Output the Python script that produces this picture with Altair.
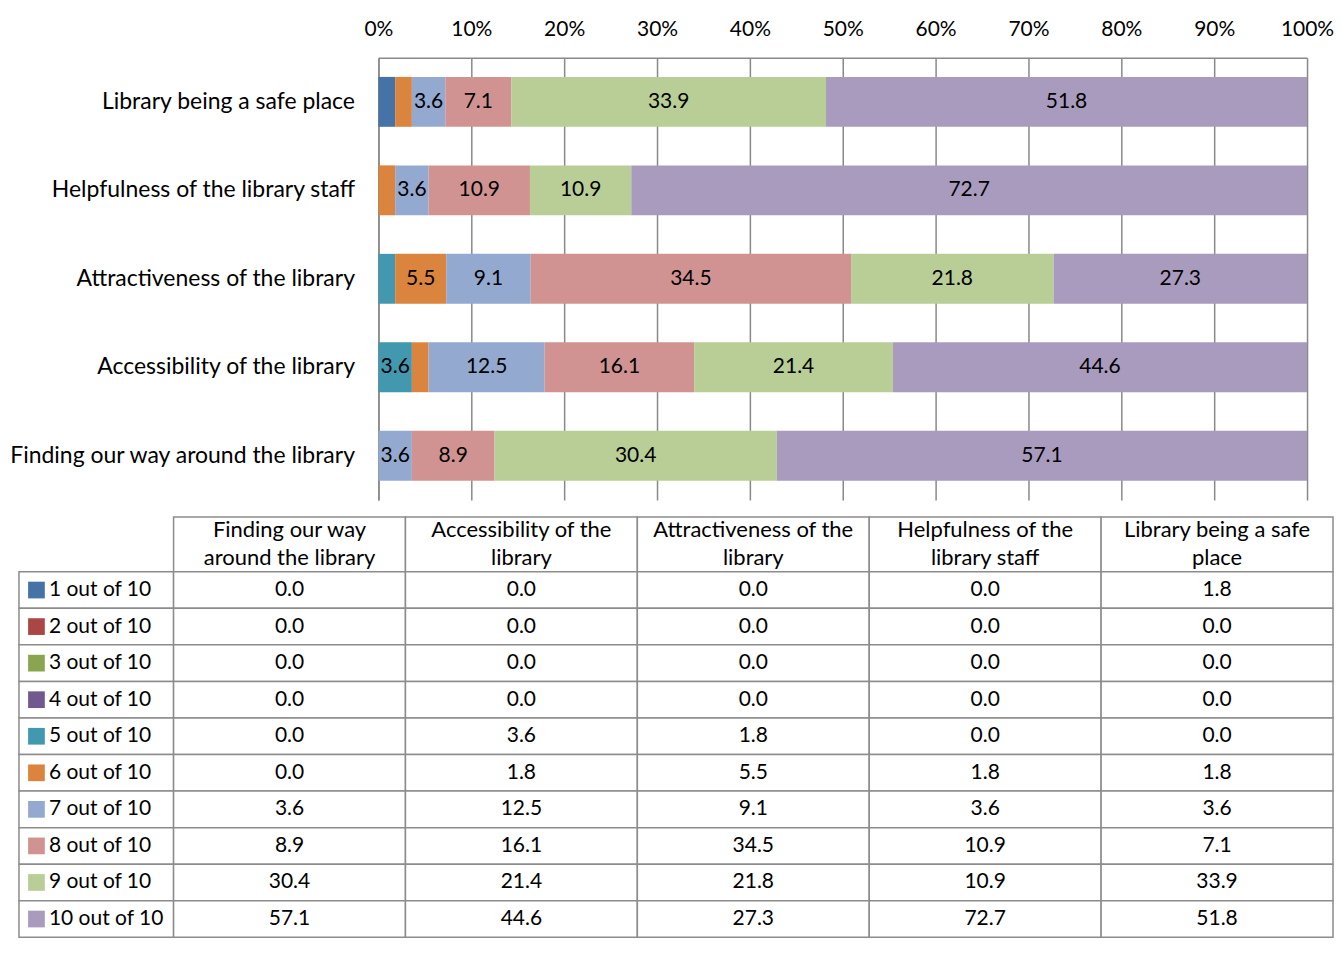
import altair as alt
import pandas as pd

# ---------------- data ----------------
categories = [
    "Finding our way around the library",
    "Accessibility of the library",
    "Attractiveness of the library",
    "Helpfulness of the library staff",
    "Library being a safe place",
]
header_labels = [
    "Finding our way\naround the library",
    "Accessibility of the\nlibrary",
    "Attractiveness of the\nlibrary",
    "Helpfulness of the\nlibrary staff",
    "Library being a safe\nplace",
]
levels = ["1 out of 10", "2 out of 10", "3 out of 10", "4 out of 10", "5 out of 10",
          "6 out of 10", "7 out of 10", "8 out of 10", "9 out of 10", "10 out of 10"]
colors = ["#4572A7", "#AA4643", "#89A54E", "#71588F", "#4198AF",
          "#DB843D", "#93A9CF", "#D19392", "#B9CD96", "#A99BBD"]

s1 = [0.0, 0.0, 0.0, 0.0, 1.8]
s2 = [0.0, 0.0, 0.0, 0.0, 0.0]
s3 = [0.0, 0.0, 0.0, 0.0, 0.0]
s4 = [0.0, 0.0, 0.0, 0.0, 0.0]
s5 = [0.0, 3.6, 1.8, 0.0, 0.0]
s6 = [0.0, 1.8, 5.5, 1.8, 1.8]
s7 = [3.6, 12.5, 9.1, 3.6, 3.6]
s8 = [8.9, 16.1, 34.5, 10.9, 7.1]
s9 = [30.4, 21.4, 21.8, 10.9, 33.9]
s10 = [57.1, 44.6, 27.3, 72.7, 51.8]
series = [s1, s2, s3, s4, s5, s6, s7, s8, s9, s10]

axis_ticks = [0, 0.1, 0.2, 0.3, 0.4, 0.5, 0.6, 0.7, 0.8, 0.9, 1.0]

FONT = "Lato"
FS = 21
LFS = 22
YFS = 23
GRID = "#898989"
TBL = "#8c8c8c"

# ---------------- long table ----------------
rows = []
for li, (lev, vals) in enumerate(zip(levels, series)):
    for ci, (cat, v) in enumerate(zip(categories, vals)):
        rows.append({"category": cat, "level": lev, "level_idx": li,
                     "cat_idx": ci, "value": v})
df = pd.DataFrame(rows)

bar_order = list(reversed(categories))
color_scale = alt.Scale(domain=levels, range=colors)

# ---------------- stacked bar chart ----------------
base = alt.Chart(df).transform_filter("datum.value > 0").transform_stack(
    stack="value", groupby=["category"], as_=["v0", "v1"], offset="normalize",
    sort=[alt.SortField("level_idx", order="ascending")],
)

yenc = alt.Y(
    "category:N", sort=bar_order, title=None,
    scale=alt.Scale(paddingInner=0.436, paddingOuter=0.218),
    axis=alt.Axis(labelFont=FONT, labelFontSize=YFS, labelColor="black",
                  labelPadding=24, ticks=False, domainColor=GRID,
                  domainWidth=1.5, labelLimit=500),
)

bars = base.mark_bar().encode(
    y=yenc,
    x=alt.X("v0:Q", title=None, scale=alt.Scale(domain=[0, 1], nice=False),
            axis=alt.Axis(orient="top", values=axis_ticks, format=".0%",
                          labelFont=FONT, labelFontSize=FS, labelColor="black",
                          labelPadding=18, ticks=False, grid=True,
                          gridColor=GRID, gridWidth=1.5, domainColor=GRID,
                          domainWidth=1.5, labelFlush=False)),
    x2="v1:Q",
    color=alt.Color("level:N", scale=color_scale, legend=None),
)

bar_text = base.transform_calculate(mid="(datum.v0 + datum.v1) / 2").transform_filter(
    "datum.value >= 3"
).mark_text(font=FONT, fontSize=FS, color="black", baseline="middle").encode(
    y=alt.Y("category:N", sort=bar_order),
    x=alt.X("mid:Q"),
    text=alt.Text("value:Q", format=".1f"),
)

top = alt.layer(bars, bar_text).properties(width=930, height=443)

# ---------------- data table ----------------
cells = []
for j, h in enumerate(header_labels):
    l1, l2 = h.split("\n")
    cells.append({"kind": "header", "text": "", "line1": l1, "line2": l2, "level": "",
                  "x0": 2 + 3 * j, "x1": 2 + 3 * (j + 1), "y0": 0.0, "y1": 1.5})
for i, (lev, vals) in enumerate(zip(levels, series)):
    cells.append({"kind": "legend", "text": lev, "line1": "", "line2": "", "level": lev,
                  "x0": 0, "x1": 2, "y0": 1.5 + i, "y1": 2.5 + i})
    for j, v in enumerate(vals):
        cells.append({"kind": "value", "text": f"{v:.1f}", "line1": "", "line2": "",
                      "level": lev, "x0": 2 + 3 * j, "x1": 2 + 3 * (j + 1),
                      "y0": 1.5 + i, "y1": 2.5 + i})
cdf = pd.DataFrame(cells)
cdf["xc"] = (cdf["x0"] + cdf["x1"]) / 2
cdf["yc"] = (cdf["y0"] + cdf["y1"]) / 2

TW = 956
xs = alt.Scale(domain=[0, 17], nice=False, zero=False, range=[-360, TW])
ys = alt.Scale(domain=[0, 11.5], nice=False, zero=False, reverse=True)

tb = alt.Chart(cdf)
X0 = alt.X("x0:Q", scale=xs, axis=None)
XC = alt.X("xc:Q", scale=xs, axis=None)
YC = alt.Y("yc:Q", scale=ys, axis=None)

grid_rects = tb.mark_rect(fill="white", stroke=TBL, strokeWidth=1.5).encode(
    x=X0, x2="x1:Q",
    y=alt.Y("y0:Q", scale=ys, axis=None), y2="y1:Q",
)
value_text = tb.transform_filter("datum.kind == 'value'").mark_text(
    font=FONT, fontSize=FS, color="black", baseline="middle", align="center",
).encode(x=XC, y=YC, text="text:N")
head1 = tb.transform_filter("datum.kind == 'header'").mark_text(
    font=FONT, fontSize=LFS, color="black", baseline="middle", align="center", dy=-14,
).encode(x=XC, y=YC, text="line1:N")
head2 = tb.transform_filter("datum.kind == 'header'").mark_text(
    font=FONT, fontSize=LFS, color="black", baseline="middle", align="center", dy=14,
).encode(x=XC, y=YC, text="line2:N")
legend_sq = tb.transform_filter("datum.kind == 'legend'").mark_square(
    size=280, opacity=1, xOffset=17.5
).encode(
    x=X0, y=YC,
    color=alt.Color("level:N", scale=color_scale, legend=None),
)
legend_text = tb.transform_filter("datum.kind == 'legend'").mark_text(
    font=FONT, fontSize=FS, color="black", baseline="middle", align="left", dx=30,
).encode(x=X0, y=YC, text="text:N")

table = alt.layer(grid_rects, value_text, head1, head2, legend_sq, legend_text).properties(
    width=TW, height=421
)

chart = alt.vconcat(top, table, spacing=16).properties(
    padding={"left": 0, "top": 10, "right": 0, "bottom": 0}
).configure_view(stroke=None)

chart.save("out.html", embed_options={"renderer": "svg", "actions": False})
